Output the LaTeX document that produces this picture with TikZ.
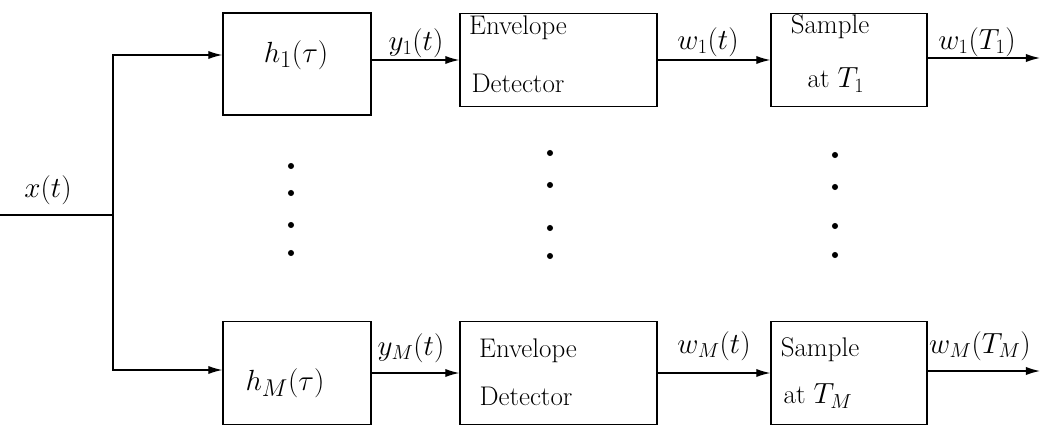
\documentclass[tikz,border=0pt]{standalone}
\usetikzlibrary{arrows.meta}
\begin{document}
\begin{tikzpicture}[x=0.03cm,y=-0.03cm,
  blk/.style={draw,line width=1.1pt,inner sep=0pt},
  btxt/.style={font=\fontsize{23}{28}\selectfont,inner sep=0pt},
  lbl/.style={font=\fontsize{24}{29}\selectfont,inner sep=1pt},
  htxt/.style={font=\fontsize{29}{34}\selectfont,inner sep=1pt},
  wire/.style={line width=1.1pt},
  arr/.style={wire,-{Latex[length=12pt,width=7pt]}}]
\useasboundingbox (0,0) rectangle (1041,426);
% boxes
\node[blk,minimum width=4.44cm,minimum height=3.06cm] (h1) at (297,64) {};
\node[blk,minimum width=5.91cm,minimum height=2.79cm] (e1) at (558.5,60) {};
\node[blk,minimum width=4.68cm,minimum height=2.79cm] (s1) at (849,60) {};
\node[blk,minimum width=4.44cm,minimum height=3.09cm] (hM) at (297,373) {};
\node[blk,minimum width=5.91cm,minimum height=3.09cm] (eM) at (558.5,373) {};
\node[blk,minimum width=4.68cm,minimum height=3.09cm] (sM) at (849,373) {};
% box texts
\node[htxt] (th1) at (296,55) {$h_1(\tau)$};
\node[htxt] (thM) at (285,383) {$h_M(\tau)$};
\node[btxt] (te1a) at (518,28) {Envelope};
\node[btxt] (te1b) at (518,83) {Detector};
\node[btxt] (ts1a) at (830,27) {Sample};
\node[btxt] (ts1b) at (836,80) {at $T_1$};
\node[btxt] (teMa) at (528,351) {Envelope};
\node[btxt] (teMb) at (526,396) {Detector};
\node[btxt] (tsMa) at (820,350) {Sample};
\node[btxt] (tsMb) at (818,396) {at $T_M$};
% coordinates
\coordinate (in) at (0,215);
\coordinate (bus) at (113,215);
\coordinate (bt) at (113,55);
\coordinate (bb) at (113,370);
\coordinate (o1) at (1040,58);
\coordinate (oM) at (1040,371);
% connectors
\draw[wire] (in) -- (bus);
\draw[arr] (bus) |- (h1.west |- bt);
\draw[arr] (bus) |- (hM.west |- bb);
\draw[arr] (h1.east |- e1.west) -- (e1.west);
\draw[arr] (e1) -- (s1);
\draw[arr] (s1.east |- o1) -- (o1);
\draw[arr] (hM) -- (eM);
\draw[arr] (eM) -- (sM);
\draw[arr] (sM.east |- oM) -- (oM);
% labels
\node[lbl] (lx) at (48,190) {$x(t)$};
\node[lbl] (ly1) at (416,43) {$y_1(t)$};
\node[lbl] (lw1) at (708,42) {$w_1(t)$};
\node[lbl] (lo1) at (977,42) {$w_1(T_1)$};
\node[lbl] (lyM) at (411,348) {$y_M(t)$};
\node[lbl] (lwM) at (714,346) {$w_M(t)$};
\node[lbl] (loM) at (980,346) {$w_M(T_M)$};
% dots
\foreach \x/\a/\b/\c/\d in {291/166/193/225/253, 550/153/185/228/256, 835/155/187/226/255}{
  \fill (\x,\a) circle (2.6pt);
  \fill (\x,\b) circle (2.6pt);
  \fill (\x,\c) circle (2.6pt);
  \fill (\x,\d) circle (2.6pt);
}
\end{tikzpicture}
\end{document}
